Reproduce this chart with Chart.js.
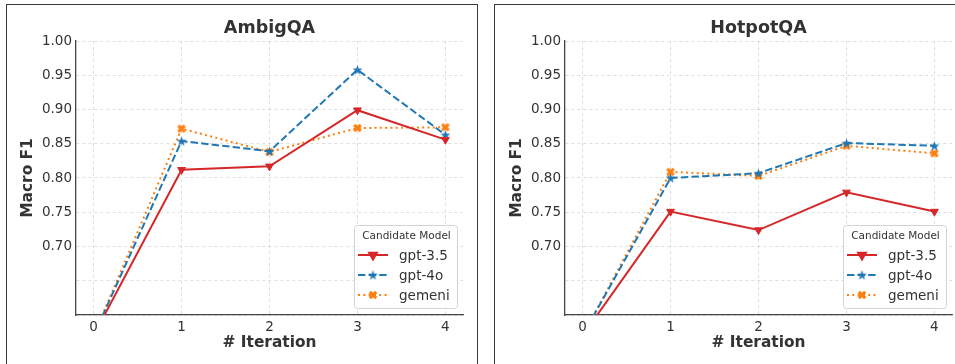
<!DOCTYPE html>
<html>
<head>
<meta charset="utf-8">
<script src="https://cdn.jsdelivr.net/npm/chart.js@4.4.0/dist/chart.umd.min.js"></script>
<style>
    body { margin: 0; background: #fff; width: 955px; height: 364px; overflow: hidden; position: relative; }
    .marco { position: absolute; border: 1.6px solid #3a3a3a; box-sizing: border-box; }
    #marco1 { left: 6px; top: 4px; width: 472px; height: 380px; }
    #marco2 { left: 494px; top: 4px; width: 480px; height: 380px; }
    #grafico-ambig { position: absolute; left: 0; top: 0; }
    #grafico-hotpot { position: absolute; left: 480px; top: 0; }
</style>
</head>
<body>
<div class="marco" id="marco1"></div>
<div class="marco" id="marco2"></div>
<canvas id="grafico-ambig" width="477" height="364"></canvas>
<canvas id="grafico-hotpot" width="480" height="364"></canvas>
<script>
// datos
var iteraciones = [0, 1, 2, 3, 4];
var modelos = ["gpt-3.5", "gpt-4o", "gemeni"];
var etiquetasY = [0.70, 0.75, 0.80, 0.85, 0.90, 0.95, 1.00];

var ambigGpt35 = [0.57, 0.812, 0.817, 0.899, 0.856];
var ambigGpt4o = [0.57, 0.854, 0.839, 0.958, 0.863];
var ambigGemeni = [0.57, 0.872, 0.838, 0.873, 0.874];

var hotpotGpt35 = [0.57, 0.751, 0.724, 0.779, 0.751];
var hotpotGpt4o = [0.57, 0.800, 0.807, 0.851, 0.847];
var hotpotGemeni = [0.57, 0.809, 0.803, 0.847, 0.836];

var colores = ['#d62728', '#1f77b4', '#ff7f0e'];
var fuente = "'DejaVu Sans', sans-serif";

// marcadores tipo matplotlib: estrella y X rellenas
function marcadorEstrella(color) {
    var c = document.createElement('canvas');
    c.width = 11; c.height = 11;
    var g = c.getContext('2d');
    g.fillStyle = color;
    g.beginPath();
    for (var i = 0; i < 10; i++) {
        var r = (i % 2 == 0) ? 5.2 : 2.1;
        var a = -Math.PI / 2 + i * Math.PI / 5;
        var px = 5.5 + r * Math.cos(a);
        var py = 6 + r * Math.sin(a);
        if (i == 0) g.moveTo(px, py); else g.lineTo(px, py);
    }
    g.closePath();
    g.fill();
    return c;
}

function marcadorX(color) {
    var c = document.createElement('canvas');
    c.width = 10; c.height = 10;
    var g = c.getContext('2d');
    g.strokeStyle = color;
    g.lineWidth = 3.2;
    g.beginPath();
    g.moveTo(1.8, 1.8); g.lineTo(8.2, 8.2);
    g.moveTo(8.2, 1.8); g.lineTo(1.8, 8.2);
    g.stroke();
    return c;
}

function puntos(valores) {
    var res = [];
    for (var i = 0; i < iteraciones.length; i++) {
        res.push({ x: iteraciones[i], y: valores[i] });
    }
    return res;
}

// leyenda dibujada a mano (linea + marcador como en matplotlib)
var leyendaPlugin = {
    id: 'leyendaModelo',
    afterDraw: function (chart) {
        var ctx = chart.ctx;
        var area = chart.chartArea;
        var ancho = 103, alto = 83;
        var x0 = area.right - 6 - ancho;
        var y0 = area.bottom - 7 - alto;
        ctx.save();
        ctx.fillStyle = 'rgba(255,255,255,0.85)';
        ctx.strokeStyle = '#d4d4d4';
        ctx.lineWidth = 1;
        ctx.beginPath();
        ctx.roundRect(x0 + 0.5, y0 + 0.5, ancho, alto, 3);
        ctx.fill();
        ctx.stroke();

        ctx.fillStyle = '#333';
        ctx.font = "10.5px " + fuente;
        ctx.textAlign = 'center';
        ctx.textBaseline = 'middle';
        ctx.fillText('Candidate Model', x0 + ancho / 2 + 1, y0 + 11);

        var ds = chart.data.datasets;
        for (var i = 0; i < ds.length; i++) {
            var yy = y0 + 30 + i * 20;
            ctx.strokeStyle = ds[i].borderColor;
            ctx.lineWidth = 2;
            ctx.setLineDash(ds[i].borderDash || []);
            ctx.beginPath();
            ctx.moveTo(x0 + 4, yy);
            ctx.lineTo(x0 + 34, yy);
            ctx.stroke();
            ctx.setLineDash([]);
            ctx.fillStyle = ds[i].borderColor;
            Chart.helpers.drawPoint(ctx, {
                pointStyle: ds[i].pointStyle,
                radius: ds[i].pointRadius,
                rotation: ds[i].pointRotation || 0,
                borderWidth: 1
            }, x0 + 19, yy);
            ctx.fillStyle = '#333';
            ctx.font = "13.5px " + fuente;
            ctx.textAlign = 'left';
            ctx.fillText(ds[i].label, x0 + 45, yy + 1);
        }
        ctx.restore();
    }
};

function crearGrafico(idCanvas, titulo, serie1, serie2, serie3, anchoEjeY, padTituloY, padDerecha) {
    var ctx = document.getElementById(idCanvas);
    return new Chart(ctx, {
        type: 'line',
        data: {
            datasets: [{
                label: modelos[0],
                data: puntos(serie1),
                borderColor: colores[0],
                backgroundColor: colores[0],
                borderWidth: 2,
                pointStyle: 'triangle',
                pointRotation: 180,
                pointRadius: 4.5,
                pointBorderWidth: 1,
                clip: 0
            }, {
                label: modelos[1],
                data: puntos(serie2),
                borderColor: colores[1],
                backgroundColor: colores[1],
                borderWidth: 2,
                borderDash: [7.4, 3.2],
                pointStyle: marcadorEstrella(colores[1]),
                pointRadius: 5,
                clip: 0
            }, {
                label: modelos[2],
                data: puntos(serie3),
                borderColor: colores[2],
                backgroundColor: colores[2],
                borderWidth: 2,
                borderDash: [2, 3.3],
                pointStyle: marcadorX(colores[2]),
                pointRadius: 5,
                clip: 0
            }]
        },
        options: {
            responsive: false,
            animation: false,
            layout: { padding: { left: 0, top: 0, right: padDerecha, bottom: 0 } },
            plugins: {
                legend: { display: false },
                tooltip: { enabled: false },
                title: {
                    display: true,
                    text: titulo,
                    fullSize: false,
                    color: '#333',
                    font: { family: fuente, size: 17.5, weight: 'bold' },
                    padding: { top: 18, bottom: 2 }
                }
            },
            scales: {
                x: {
                    type: 'linear',
                    min: -0.2,
                    max: 4.2,
                    afterFit: function (scale) { scale.height = 49; },
                    ticks: {
                        stepSize: 1,
                        includeBounds: false,
                        color: '#333',
                        padding: 4,
                        font: { family: fuente, size: 13.5 }
                    },
                    grid: { color: 'rgba(0,0,0,0.16)', lineWidth: 0.8, drawTicks: false },
                    border: { display: true, color: '#444', width: 1.3, dash: [3, 3] },
                    title: {
                        display: true,
                        text: '# Iteration',
                        color: '#333',
                        font: { family: fuente, size: 15.4, weight: 'bold' },
                        padding: { top: 0, bottom: 11.8 }
                    }
                },
                y: {
                    min: 0.6,
                    max: 1.0,
                    afterFit: function (scale) { scale.width = anchoEjeY; },
                    ticks: {
                        stepSize: 0.05,
                        color: '#333',
                        padding: 4,
                        font: { family: fuente, size: 13.5 },
                        callback: function (valor) {
                            for (var i = 0; i < etiquetasY.length; i++) {
                                if (Math.abs(etiquetasY[i] - valor) < 0.001) return etiquetasY[i].toFixed(2);
                            }
                            return '';
                        }
                    },
                    grid: { color: 'rgba(0,0,0,0.16)', lineWidth: 0.8, drawTicks: false },
                    border: { display: true, color: '#444', width: 1.3, dash: [3, 3] },
                    title: {
                        display: true,
                        text: 'Macro F1',
                        color: '#333',
                        font: { family: fuente, size: 15.4, weight: 'bold' },
                        padding: { top: padTituloY, bottom: 0 }
                    }
                }
            }
        },
        plugins: [leyendaPlugin]
    });
}

crearGrafico('grafico-ambig', 'AmbigQA', ambigGpt35, ambigGpt4o, ambigGemeni, 76, 18.8, 14);
crearGrafico('grafico-hotpot', 'HotpotQA', hotpotGpt35, hotpotGpt4o, hotpotGemeni, 85, 27.5, 8);
</script>
</body>
</html>
